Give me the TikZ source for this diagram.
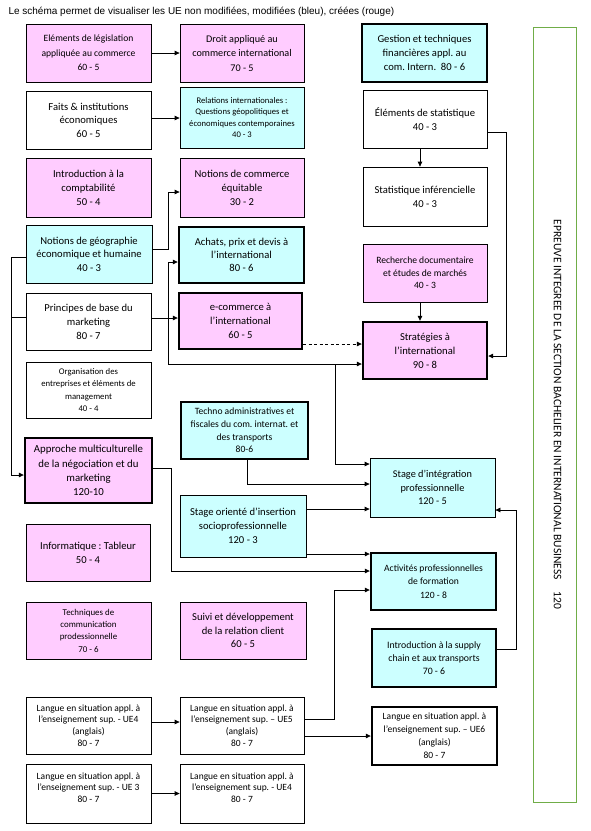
\documentclass[tikz,border=0pt]{standalone}
\usepackage{fontspec}
\setmainfont{Carlito}
\newfontfamily\titlefont{Liberation Sans}
\usetikzlibrary{arrows.meta}
\definecolor{uepink}{RGB}{255,204,255}
\definecolor{uecyan}{RGB}{204,255,255}
\definecolor{epgreen}{RGB}{112,173,71}
\newcommand{\fsz}[2]{\fontsize{#1}{#2}\selectfont}
\frenchspacing

\begin{document}
\begin{tikzpicture}[x=1pt,y=-1pt,>={Triangle[length=5pt,width=4.5pt]},
  ue/.style={draw,line width=0.75pt,minimum width=125pt,minimum height=58pt,align=center,inner sep=0pt},
  pinkue/.style={ue,fill=uepink},
  cyanue/.style={ue,fill=uecyan},
  heavy/.style={line width=2.4pt},
  big/.style={font=\fsz{10.6}{14}},
  mid/.style={font=\fsz{9.6}{13}},
  small/.style={font=\fsz{8.7}{12.4}},
  lang/.style={font=\fsz{9.5}{11.7}},
  link/.style={->,line width=0.75pt}]
  \useasboundingbox (0,0) rectangle (590,831);
  \node[anchor=west,font=\titlefont\fsz{10}{11}] (title) at (5,12) {Le schéma permet de visualiser les UE non modifiées, modifiées (bleu), créées (rouge)};

  % left column
  \node[pinkue,font=\fsz{9.6}{14.5}] (legis) at (88.5,53) {Eléments de législation\\appliquée au commerce\\60 - 5};
  \node[ue,big,font=\fsz{10.6}{13.5}] (faits) at (88.5,120) {Faits \& institutions\\économiques\\60 - 5};
  \node[pinkue,big,minimum height=59pt] (compta) at (88.5,187.5) {Introduction à la\\comptabilité\\50 - 4};
  \node[cyanue,big,font=\fsz{10.6}{13.5},minimum width=126pt] (geo) at (89,254) {Notions de géographie\\économique et humaine\\40 - 3};
  \node[ue,big,minimum height=57pt] (princ) at (88.5,321.5) {Principes de base du\\marketing\\80 - 7};
  \node[ue,small,minimum height=56pt] (orga) at (88.5,390) {Organisation des\\entreprises et éléments de\\management\\40 - 4};
  \node[pinkue,heavy,font=\fsz{10.8}{14.2},minimum width=127pt,minimum height=65pt] (approche) at (88.5,470.5) {Approche multiculturelle\\de la négociation et du\\marketing\\120-10};
  \node[pinkue,big,minimum width=124pt,minimum height=57pt] (info) at (88,552.5) {Informatique : Tableur\\50 - 4};
  \node[pinkue,font=\fsz{8.9}{12.3},minimum height=57pt] (techn) at (88.5,630.5) {Techniques de\\communication\\prodessionnelle\\70 - 6};
  \node[ue,lang,minimum height=57pt] (lang4a) at (88.5,725.5) {Langue en situation appl. à\\l’enseignement sup. - UE4\\(anglais)\\80 - 7};
  \node[ue,lang,minimum height=59pt] (lang3) at (88.5,793.5) {Langue en situation appl. à\\l’enseignement sup. - UE 3\\80 - 7\\\mbox{}};

  % middle column
  \node[pinkue,font=\fsz{10.2}{14.5},minimum width=124pt] (droit) at (242,53) {Droit appliqué au\\commerce international\\70 - 5};
  \node[cyanue,font=\fsz{8.6}{11.3},minimum width=124pt,minimum height=61pt] (relat) at (242,117.5) {Relations internationales :\\Questions géopolitiques et\\économiques contemporaines\\40 - 3};
  \node[pinkue,big,minimum width=124pt,minimum height=59pt] (equit) at (242,187.5) {Notions de commerce\\équitable\\30 - 2};
  \node[cyanue,heavy,font=\fsz{10.6}{13},minimum height=56pt] (achats) at (241.5,255) {Achats, prix et devis à\\l’international\\80 - 6};
  \node[pinkue,heavy,big,minimum width=123pt,minimum height=56pt] (ecom) at (240.5,321) {e-commerce à\\l’international\\60 - 5};
  \node[cyanue,heavy,font=\fsz{9.6}{12.7},minimum width=127pt,minimum height=57pt] (techno) at (244.5,430.5) {Techno administratives et\\fiscales du com. internat. et\\des transports\\80-6};
  \node[cyanue,big,minimum width=126pt,minimum height=62pt] (stageor) at (243,526) {Stage orienté d’insertion\\socioprofessionnelle\\120 - 3};
  \node[pinkue,big,font=\fsz{10.6}{13.5},minimum width=126pt,minimum height=57pt] (suivi) at (243,630.5) {Suivi et développement\\de la relation client\\60 - 5};
  \node[ue,lang,minimum width=124pt,minimum height=57pt] (lang5) at (242,725.5) {Langue en situation appl. à\\l’enseignement sup. – UE5\\(anglais)\\80 - 7};
  \node[ue,lang,minimum width=124pt,minimum height=59pt] (lang4b) at (242,793.5) {Langue en situation appl. à\\l’enseignement sup. - UE4\\80 - 7\\\mbox{}};

  % right column
  \node[cyanue,heavy,big] (gestion) at (424.5,53) {Gestion et techniques\\financières appl. au\\com. Intern.\ \ 80 - 6};
  \node[ue,big,minimum width=124pt] (elstat) at (425,119) {Éléments de statistique\\40 - 3};
  \node[ue,big,minimum width=124pt,minimum height=59pt] (statinf) at (425,196.5) {Statistique inférencielle\\40 - 3};
  \node[pinkue,font=\fsz{9.6}{12.5},minimum width=124pt] (recher) at (425,273) {Recherche documentaire\\et études de marchés\\40 - 3};
  \node[pinkue,heavy,big,minimum width=124pt,minimum height=57pt] (strat) at (425,350.5) {Stratégies à\\l’international\\90 - 8};
  \node[cyanue,font=\fsz{10.3}{13.5},minimum height=59pt] (stageint) at (432.5,487.5) {Stage d’intégration\\professionnelle\\120 - 5};
  \node[cyanue,heavy,font=\fsz{9.6}{13.5},minimum height=57pt] (activ) at (433.5,581.5) {Activités professionnelles\\de formation\\120 - 8};
  \node[cyanue,heavy,font=\fsz{9.8}{12.8},minimum width=124pt] (supply) at (434,658) {Introduction à la supply\\chain et aux transports\\70 - 6};
  \node[ue,heavy,font=\fsz{9.5}{13},minimum width=125pt] (lang6) at (434.5,736) {Langue en situation appl. à\\l’enseignement sup. – UE6\\(anglais)\\80 - 7};

  % epreuve integree
  \node[draw=epgreen,line width=0.9pt,minimum width=43pt,minimum height=775pt,inner sep=0pt] (epreuve) at (554.5,414.5) {};
  \node[rotate=-90,font=\fsz{11.5}{13},inner sep=0pt] (eplabel) at ([xshift=3pt]epreuve.center) {EPREUVE INTEGREE DE LA SECTION BACHELIER EN INTERNATIONAL BUSINESS\hspace{12pt}120};

  % links
  \draw[link] (legis.east) -- (droit.west);
  \draw[link] ([yshift=2pt]faits.east) -- ([yshift=2pt]faits.east -| relat.west);
  \draw[link] ([yshift=5pt]geo.east) -- ++(16,0) |- ([yshift=-4.5pt]equit.west);
  \draw[link] ([yshift=3.5pt]princ.east) -- ([yshift=3.5pt]princ.east -| ecom.west);
  \draw[line width=0.75pt] ([yshift=4.5pt]princ.west) -- ++(-14,0);
  \draw[link] ([yshift=-3pt]geo.west) -- ++(-14.5,0) |- ([yshift=-4.5pt]approche.west);
  \draw[link,<->] ([yshift=-7pt]achats.west) -- ++(-9,0) |- ([yshift=-13.5pt]strat.west);
  \coordinate (jstrat) at (335,364);
  \draw[link] (jstrat) |- ([yshift=23.5pt]stageint.west);
  \draw[link,dash pattern=on 3pt off 2.5pt] ([yshift=-23pt]ecom.east) -- ([yshift=-23pt]ecom.east -| strat.west);
  \draw[link] ([xshift=-5pt]elstat.south) -- ([xshift=-5pt]statinf.north);
  \draw[link] ([yshift=-13pt]elstat.east) -- ++(19,0) |- ([yshift=-5.5pt]strat.east);
  \draw[link] ([xshift=-5pt]recher.south) -- ([xshift=-5pt]strat.north);
  \draw[link] ([xshift=2.5pt]techno.south) |- ([yshift=3.5pt]stageint.west);
  \draw[link] ([yshift=17pt]stageor.east) -- ([yshift=17pt]stageor.east -| stageint.west);
  \draw[link] ([yshift=-28pt]stageor.east) -- ([yshift=-28pt]stageor.east -| activ.west);
  \draw[link] ([yshift=2.5pt]approche.east) -- ++(18.5,0) |- ([yshift=10.5pt]activ.west);
  \draw[link] ([yshift=6.5pt]lang5.east) -- ++(30,0) |- ([yshift=-8.5pt]activ.west);
  \draw[link] ([yshift=-10.5pt]lang5.east) -- ([yshift=-10.5pt]lang5.east -| lang6.west);
  \draw[link] ([yshift=9pt]supply.east) -- ++(19.5,0) |- ([yshift=-22.5pt]stageint.east);
  \draw[link] ([yshift=3.5pt]lang4a.east) -- ([yshift=3.5pt]lang4a.east -| lang5.west);
  \draw[link] (lang3.east) -- (lang3.east -| lang4b.west);
\end{tikzpicture}
\end{document}
